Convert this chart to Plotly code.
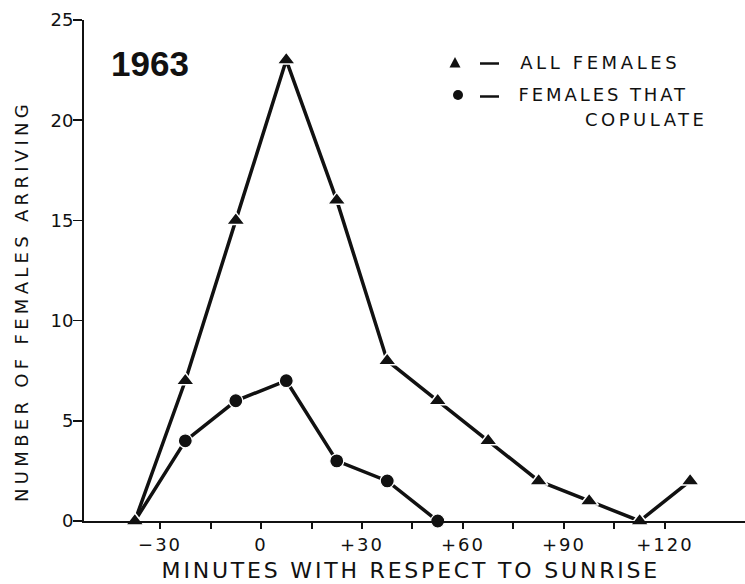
import json
import plotly.graph_objects as go

# ---- data ----
minutes = [-37.5, -22.5, -7.5, 7.5, 22.5, 37.5, 52.5, 67.5, 82.5, 97.5, 112.5, 127.5]
all_females = [0, 7, 15, 23, 16, 8, 6, 4, 2, 1, 0, 2]
cop_minutes = [-37.5, -22.5, -7.5, 7.5, 22.5, 37.5, 52.5]
cop_females = [0, 4, 6, 7, 3, 2, 0]

x_tickvals = [-30, -15, 0, 15, 30, 45, 60, 75, 90, 105, 120]
x_ticktext = ["\u221230", "", "0", "", "+30", "", "+60", "", "+90", "", "+120"]
y_tickvals = [0, 5, 10, 15, 20, 25]
y_ticktext = ["0", "5", "10", "15", "20", "25"]

x_title = "MINUTES WITH RESPECT TO SUNRISE"
y_title = "NUMBER OF FEMALES ARRIVING"
year_label = "1963"
legend_labels = ["ALL FEMALES", "FEMALES THAT", "COPULATE"]

FONT = "DejaVu Sans"
INK = "#111111"

# plot-area geometry (pixels)
L, T, W, H = 84, 20, 661, 501
def px(x):
    return (x - L) / W
def py(y):
    return (T + H - y) / H

fig = go.Figure()

cop_sizes = [0] + [14] * (len(cop_minutes) - 1)
fig.add_trace(go.Scatter(
    x=cop_minutes, y=cop_females, mode="lines+markers",
    line=dict(color=INK, width=3.5),
    marker=dict(symbol="circle", size=cop_sizes, color=INK, opacity=1,
                line=dict(color="white", width=1.2)),
    showlegend=False, cliponaxis=False, hoverinfo="skip",
))
fig.add_trace(go.Scatter(
    x=minutes, y=all_females, mode="lines+markers",
    line=dict(color=INK, width=3.5),
    marker=dict(symbol="triangle-up", size=16, color=INK, opacity=1,
                line=dict(color="white", width=1.5)),
    showlegend=False, cliponaxis=False, hoverinfo="skip",
))

fig.update_layout(
    template="none",
    width=745, height=584,
    margin=dict(l=L, r=745 - L - W, t=T, b=584 - T - H, pad=0),
    paper_bgcolor="white", plot_bgcolor="white",
    font=dict(family=FONT, color=INK, size=18),
    showlegend=False,
)
fig.update_xaxes(
    range=[-52.6, 143.8], showgrid=False, zeroline=False, automargin=False,
    showline=True, linecolor=INK, linewidth=2,
    tickmode="array", tickvals=x_tickvals, ticktext=x_ticktext,
    ticks="outside", ticklen=6, tickwidth=2, tickcolor=INK,
    tickfont=dict(size=18, family=FONT, color=INK), ticklabelstandoff=0,
)
fig.update_yaxes(
    range=[0, 25], showgrid=False, zeroline=False, automargin=False,
    showline=True, linecolor=INK, linewidth=2,
    tickmode="array", tickvals=y_tickvals, ticktext=y_ticktext,
    ticks="outside", ticklen=9, tickwidth=1.5, tickcolor=INK,
    tickfont=dict(size=18, family=FONT, color=INK), ticklabelstandoff=-4,
)

spacings = []  # letter spacing per annotation, in px

def add_text(text, x, y, size, sp, family=FONT, xanchor="center", angle=0):
    if xanchor == "left":
        # letter spacing widens text symmetrically about its centre
        x = x + sp * len(text) / 2.0
    fig.add_annotation(text=text, xref="paper", yref="paper",
                       x=px(x), y=py(y), xanchor=xanchor, yanchor="middle",
                       textangle=angle, showarrow=False,
                       font=dict(size=size, family=family, color=INK))
    spacings.append(sp)

# axis titles
add_text(x_title, 411, 570, 22, 2.8)
add_text(y_title, 21, 301, 18, 4.3, angle=-90)
# year label
add_text("<b>" + year_label + "</b>", 150, 63, 35, 0, family="Liberation Sans")
# legend text
add_text(legend_labels[0], 518, 62, 18, 3.6, xanchor="left")
add_text(legend_labels[1], 517, 95, 18, 2.9, xanchor="left")
add_text(legend_labels[2], 583, 120, 18, 3.5, xanchor="left")

# legend symbols and dashes
fig.add_shape(type="path", xref="paper", yref="paper",
              path="M {} {} L {} {} L {} {} Z".format(px(449.5), py(67.5), px(460.5), py(67.5), px(455), py(57)),
              fillcolor=INK, line=dict(width=0))
fig.add_shape(type="circle", xref="paper", yref="paper",
              x0=px(453), x1=px(463), y0=py(100), y1=py(90),
              fillcolor=INK, line=dict(width=0))
for ly in (63.5, 96.5):
    fig.add_shape(type="line", xref="paper", yref="paper",
                  x0=px(480), x1=px(499), y0=py(ly), y1=py(ly),
                  line=dict(color=INK, width=2.5))

post = """
document.documentElement.style.margin = '0';
document.body.style.margin = '0';
document.body.style.overflow = 'hidden';
var gd = document.getElementById('{plot_id}');
var sp = %s;
gd.querySelectorAll('g.annotation').forEach(function(g){
  var i = parseInt(g.getAttribute('data-index'));
  var t = g.querySelector('text');
  if (t && sp[i]) { t.style.letterSpacing = sp[i] + 'px'; }
});
gd.querySelectorAll('g.xtick text').forEach(function(t){ t.style.letterSpacing = '2px'; });
""" % json.dumps(spacings)

fig.write_html("out.html", post_script=post,
               config={"displayModeBar": False, "staticPlot": True})
